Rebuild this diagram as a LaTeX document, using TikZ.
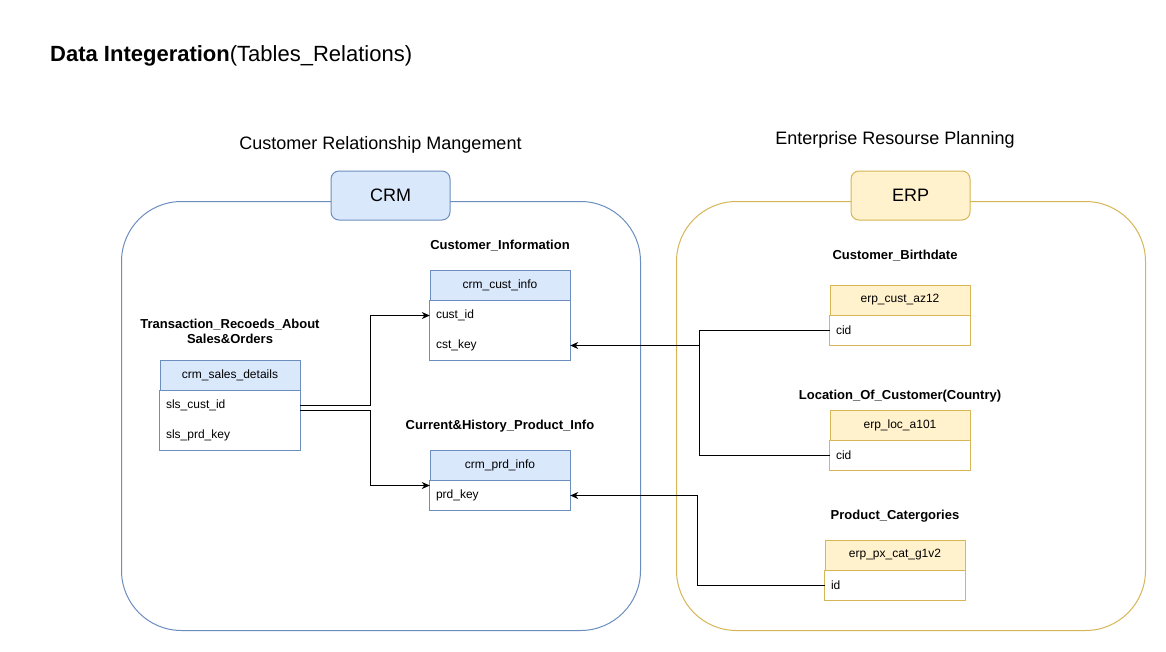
\documentclass[tikz,border=0pt]{standalone}
\usepackage{fontspec}
\setmainfont{Liberation Sans}
\usetikzlibrary{arrows.meta}
\definecolor{bluestroke}{HTML}{6C8EBF}
\definecolor{bluefill}{HTML}{DAE8FC}
\definecolor{yelstroke}{HTML}{D6B656}
\definecolor{yelfill}{HTML}{FFF2CC}
\newcommand{\rowfont}{\fontsize{12}{14}\selectfont}
\newcommand{\lblfont}{\fontsize{13}{15}\selectfont\bfseries}
\newcommand{\headfont}{\fontsize{18}{21}\selectfont}
\tikzset{
  container/.style={draw, line width=1pt, rounded corners=60pt, minimum width=#1, minimum height=429pt, anchor=north west, inner sep=0pt},
  sysbox/.style={draw, line width=1pt, rounded corners=8pt, minimum width=119pt, minimum height=49pt, inner sep=0pt, font=\headfont},
  hdr/.style={draw, line width=1pt, minimum width=140pt, minimum height=30pt, inner sep=0pt, font=\rowfont},
  rowcell/.style={minimum width=140pt, minimum height=30pt, text width=128pt, inner xsep=6pt, inner ysep=0pt, align=left, font=\rowfont},
  tlabel/.style={font=\lblfont, align=center, inner sep=0pt},
  heading/.style={font=\headfont, inner sep=0pt},
  conn/.style={draw, line width=1pt, -{Stealth[length=8pt,width=7pt,inset=2.5pt]}},
  plain/.style={draw, line width=1pt},
}
\begin{document}
\begin{tikzpicture}[x=1pt,y=-1pt]
\useasboundingbox (0,0) rectangle (1166,651);
\fill[white] (0,0) rectangle (1166,651);

% title
\node[anchor=base west, inner sep=0pt, font=\fontsize{22}{26}\selectfont] (title) at (50,61.5) {\textbf{Data Integeration}(Tables\_Relations)};

% containers
\node[container=519pt, bluestroke] (crmbox) at (121,201) {};
\node[container=469pt, yelstroke] (erpbox) at (676,201) {};
\node[sysbox, draw=bluestroke, fill=bluefill] (crm) at (390.5,195.5) {CRM};
\node[sysbox, draw=yelstroke, fill=yelfill] (erp) at (910.5,195.5) {ERP};
\node[heading] (crmhead) at (380.5,145) {Customer Relationship Mangement};
\node[heading] (erphead) at (895,140) {Enterprise Resourse Planning};

% table labels
\node[tlabel] (lsales) at (230,331.5) {Transaction\_Recoeds\_About\\Sales\&Orders};
\node[tlabel] (lcust) at (500,246) {Customer\_Information};
\node[tlabel] (lprd) at (500,426) {Current\&History\_Product\_Info};
\node[tlabel] (lbirth) at (895,256) {Customer\_Birthdate};
\node[tlabel] (lloc) at (900,396) {Location\_Of\_Customer(Country)};
\node[tlabel] (lcat) at (895,516) {Product\_Catergories};

% crm_sales_details
\node[hdr, draw=bluestroke, fill=bluefill] (sales) at (230,375) {crm\_sales\_details};
\node[rowcell] (s1) at (230,405.5) {sls\_cust\_id};
\node[rowcell] (s2) at (230,435.5) {sls\_prd\_key};
\draw[line width=1pt, bluestroke] (s1.north west) rectangle (s2.south east);

% crm_cust_info
\node[hdr, draw=bluestroke, fill=bluefill] (cust) at (500,285) {crm\_cust\_info};
\node[rowcell] (c1) at (500,315.5) {cust\_id};
\node[rowcell] (c2) at (500,345.5) {cst\_key};
\draw[line width=1pt, bluestroke] (c1.north west) rectangle (c2.south east);

% crm_prd_info
\node[hdr, draw=bluestroke, fill=bluefill] (prd) at (500,465) {crm\_prd\_info};
\node[rowcell] (p1) at (500,495.5) {prd\_key};
\draw[line width=1pt, bluestroke] (p1.north west) rectangle (p1.south east);

% erp_cust_az12
\node[hdr, draw=yelstroke, fill=yelfill] (ecust) at (900,300) {erp\_cust\_az12};
\node[rowcell] (e1) at (900,330.5) {cid};
\draw[line width=1pt, yelstroke] (e1.north west) rectangle (e1.south east);

% erp_loc_a101
\node[hdr, draw=yelstroke, fill=yelfill] (eloc) at (900,425) {erp\_loc\_a101};
\node[rowcell] (l1) at (900,455.5) {cid};
\draw[line width=1pt, yelstroke] (l1.north west) rectangle (l1.south east);

% erp_px_cat_g1v2
\node[hdr, draw=yelstroke, fill=yelfill] (epx) at (895,555) {erp\_px\_cat\_g1v2};
\node[rowcell] (x1) at (895,585.5) {id};
\draw[line width=1pt, yelstroke] (x1.north west) rectangle (x1.south east);

% connectors
\draw[conn] (s1.east) -- ++(70,0) |- (c1.west);
\draw[conn] ([yshift=-5pt]s1.east) -- ++(70,0) |- ([yshift=10pt]p1.west);
\draw[conn] (e1.west) -- ++(-130,0) coordinate (j1) |- (c2.east);
\draw[plain] (l1.west) -| (j1);
\draw[conn] (x1.west) -- ++(-127,0) |- (p1.east);
\end{tikzpicture}
\end{document}
